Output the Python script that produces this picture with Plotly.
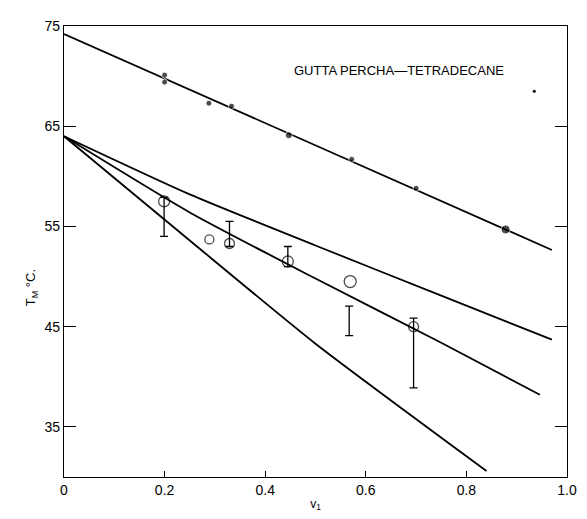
import plotly.graph_objects as go

# ---- data ----
# filled points (upper series)
top_v = [0.2, 0.2, 0.288, 0.333, 0.447, 0.572, 0.70, 0.878]
top_T = [70.1, 69.4, 67.3, 67.0, 64.1, 61.7, 58.8, 54.7]

# open circles
open_v = [0.199, 0.289, 0.329, 0.445, 0.569, 0.695]
open_T = [57.5, 53.7, 53.3, 51.5, 49.5, 45.0]

# error bars (low / high)
err_v = [0.199, 0.329, 0.445, 0.567, 0.695]
err_lo = [54.0, 53.0, 51.0, 44.1, 38.9]
err_hi = [57.9, 55.5, 53.0, 47.05, 45.85]

# drawn curves
line_top_v = [0.0, 0.97]
line_top_T = [74.2, 52.65]
curve_a_v = [0.0, 0.25, 0.5, 0.75, 0.97]
curve_a_T = [64.0, 58.2, 53.1, 48.1, 43.7]
curve_b_v = [0.0, 0.25, 0.5, 0.75, 0.946]
curve_b_T = [64.0, 56.4, 49.8, 43.4, 38.2]
curve_c_v = [0.0, 0.25, 0.5, 0.84]
curve_c_T = [64.0, 53.6, 43.3, 30.6]

# stray speck in the original
speck_v = [0.935]
speck_T = [68.5]

x_ticks = [0, 0.2, 0.4, 0.6, 0.8, 1.0]
x_tick_labels = ["0", "0.2", "0.4", "0.6", "0.8", "1.0"]
y_ticks = [35, 45, 55, 65, 75]
y_tick_labels = ["35", "45", "55", "65", "75"]

FONT = "Liberation Sans, Arial, Helvetica, sans-serif"

fig = go.Figure()

line_style = dict(color="black", width=1.8)
for vx, ty in [(line_top_v, line_top_T), (curve_a_v, curve_a_T),
               (curve_b_v, curve_b_T), (curve_c_v, curve_c_T)]:
    fig.add_trace(go.Scatter(x=vx, y=ty, mode="lines",
                             line=dict(**line_style, shape="spline", smoothing=0.6),
                             hoverinfo="skip", showlegend=False))

# error bars: invisible centre markers with symmetric bars
mid = [(lo + hi) / 2 for lo, hi in zip(err_lo, err_hi)]
half = [(hi - lo) / 2 for lo, hi in zip(err_lo, err_hi)]
fig.add_trace(go.Scatter(x=err_v, y=mid, mode="markers",
                         marker=dict(size=1, color="rgba(0,0,0,0)"),
                         error_y=dict(type="data", array=half, symmetric=True,
                                      color="black", thickness=1.3, width=4),
                         showlegend=False, hoverinfo="skip"))

fig.add_trace(go.Scatter(x=open_v, y=open_T, mode="markers",
                         marker=dict(symbol="circle-open", size=[11, 9, 10, 11, 12, 10],
                                     color="black", line=dict(width=1.3, color="black")),
                         showlegend=False))

fig.add_trace(go.Scatter(x=top_v, y=top_T, mode="markers",
                         marker=dict(symbol="circle", size=[6, 6, 6, 6, 7, 6, 6, 9], color="black"),
                         showlegend=False))

fig.add_trace(go.Scatter(x=speck_v, y=speck_T, mode="markers",
                         marker=dict(symbol="circle", size=3, color="black"),
                         showlegend=False))

fig.add_annotation(x=0.665, y=70.6, xref="x", yref="y", text="GUTTA PERCHA\u2014TETRADECANE",
                   showarrow=False, font=dict(family=FONT, size=13, color="black"))

fig.add_annotation(x=-0.085, y=0.42, xref="paper", yref="paper", text="T<sub>M</sub> \u00b0C.",
                   textangle=-90, showarrow=False, font=dict(family=FONT, size=13, color="black"))

fig.update_layout(
    width=579, height=511,
    margin=dict(l=56, r=10, t=11, b=42),
    paper_bgcolor="white", plot_bgcolor="white",
    font=dict(family=FONT, size=14, color="black"),
    xaxis=dict(range=[0, 1.0], tickvals=x_ticks, ticktext=x_tick_labels,
               ticks="inside", ticklen=6, tickwidth=1, tickcolor="black",
               showline=True, linecolor="black", linewidth=1.2, mirror=True,
               showgrid=False, zeroline=False,
               title=dict(text="v<sub>1</sub>", font=dict(family=FONT, size=12), standoff=2)),
    yaxis=dict(range=[30, 75], tickvals=y_ticks, ticktext=y_tick_labels,
               ticks="inside", ticklen=12, tickwidth=1, tickcolor="black",
               showline=True, linecolor="black", linewidth=1.2, mirror="ticks",
               showgrid=False, zeroline=False),
)

fig.write_html("out.html")
